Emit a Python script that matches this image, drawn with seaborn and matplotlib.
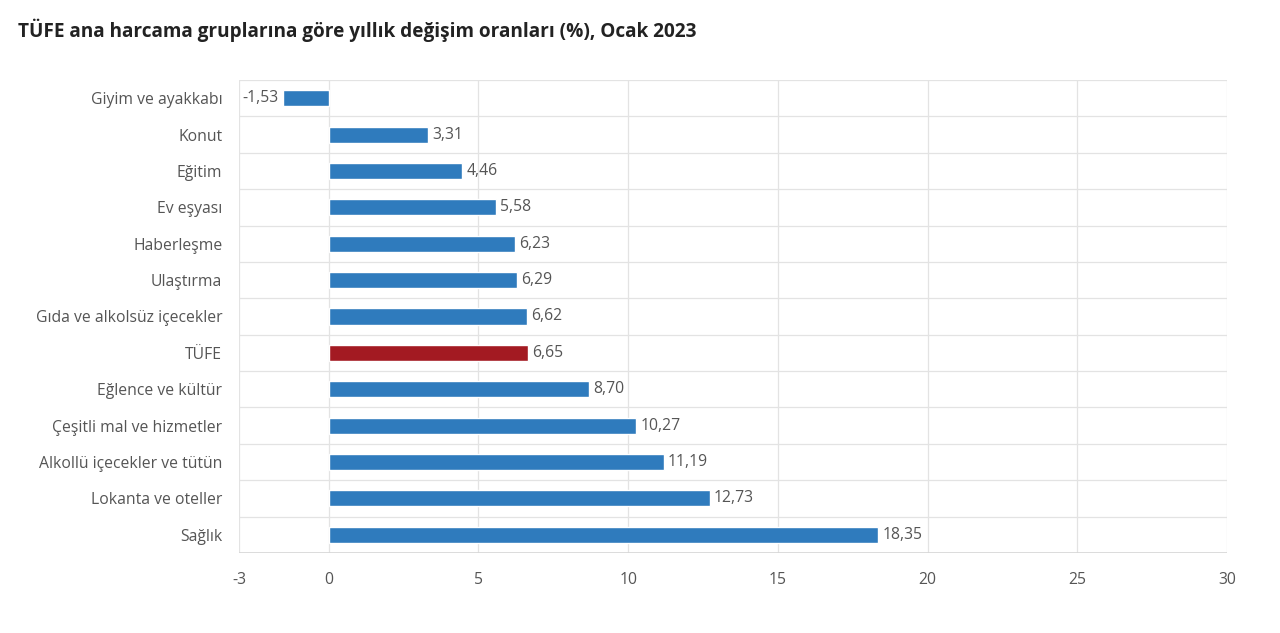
import matplotlib
matplotlib.use("Agg")
import matplotlib.pyplot as plt
import seaborn as sns

# data
categories = ["Giyim ve ayakkabı", "Konut", "Eğitim", "Ev eşyası", "Haberleşme",
              "Ulaştırma", "Gıda ve alkolsüz içecekler", "TÜFE", "Eğlence ve kültür",
              "Çeşitli mal ve hizmetler", "Alkollü içecekler ve tütün",
              "Lokanta ve oteller", "Sağlık"]
values = [-1.53, 3.31, 4.46, 5.58, 6.23, 6.29, 6.62, 6.65, 8.70, 10.27, 11.19, 12.73, 18.35]
x_ticks = [-3, 0, 5, 10, 15, 20, 25, 30]

BLUE = "#2f7bbd"
RED = "#a31a22"
colors = [RED if c == "TÜFE" else BLUE for c in categories]

sns.set_style("white")
plt.rcParams['font.family'] = ['Open Sans', 'DejaVu Sans']

fig = plt.figure(figsize=(12.8, 6.33), dpi=100)
ax = fig.add_axes([0.1867, 0.1264, 0.7719, 0.7472])

sns.barplot(x=values, y=categories, hue=categories, palette=colors,
            legend=False, width=0.44, orient="h", ax=ax, saturation=1)

ax.set_xlim(-3, 30)
ax.set_ylim(len(categories) - 0.5, -0.5)
ax.set_xticks(x_ticks)
ax.set_xticklabels([str(t) for t in x_ticks])

# grid lines
for t in x_ticks:
    ax.axvline(t, color="#e3e3e3", lw=0.9, zorder=0)
for i in range(len(categories) + 1):
    ax.axhline(i - 0.5, color="#e3e3e3", lw=0.9, zorder=0)
ax.axhline(len(categories) - 0.5, color="#d6d6d6", lw=1.2, zorder=0)

for s in ax.spines.values():
    s.set_visible(False)

ax.tick_params(axis="both", labelsize=11.3, labelcolor="#555555")
ax.tick_params(axis="y", length=0, pad=12)
ax.tick_params(axis="x", length=8, width=0.9, color="#e3e3e3", pad=6)
ax.set_xlabel("")
ax.set_ylabel("")

# value labels
for i, v in enumerate(values):
    txt = f"{v:.2f}".replace(".", ",")
    if v < 0:
        ax.annotate(txt, (v, i), xytext=(-3, 0), textcoords="offset points",
                    ha="right", va="center", fontsize=11.3, color="#555555")
    else:
        ax.annotate(txt, (v, i), xytext=(3, 0), textcoords="offset points",
                    ha="left", va="center", fontsize=11.3, color="#555555")

fig.text(0.014, 0.952, "TÜFE ana harcama gruplarına göre yıllık değişim oranları (%), Ocak 2023",
         fontsize=13.7, fontweight="bold", color="#222222", ha="left", va="center")

fig.savefig("out.png", dpi=100)
